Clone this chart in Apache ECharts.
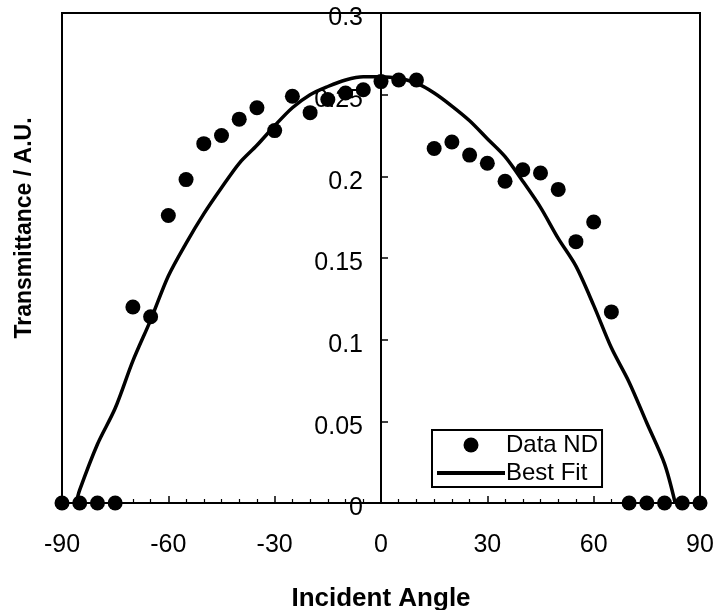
<!DOCTYPE html>
<html>
<head>
<meta charset="utf-8">
<script src="https://cdn.jsdelivr.net/npm/echarts@6/dist/echarts.min.js"></script>
<style>
html,body{margin:0;padding:0;background:#fff;}
#c{width:721px;height:610px;}
</style>
</head>
<body>
<div id="c"></div>
<script>
// Measured data (Data ND)
var dataX = [-90,-85,-80,-75,-70,-65,-60,-55,-50,-45,-40,-35,-30,-25,-20,-15,-10,-5,0,5,10,15,20,25,30,35,40,45,50,55,60,65,70,75,80,85,90];
var dataY = [0,0,0,0,0.120,0.114,0.176,0.198,0.220,0.225,0.235,0.242,0.228,0.249,0.239,0.247,0.251,0.253,0.258,0.259,0.259,0.217,0.221,0.213,0.208,0.197,0.204,0.202,0.192,0.160,0.172,0.117,0,0,0,0,0];
// Best fit curve
var fitX = [-86,-85,-80,-75,-70,-65,-60,-55,-50,-45,-40,-35,-30,-25,-20,-15,-10,-5,0,5,10,15,20,25,30,35,40,45,50,55,60,65,70,75,80,83];
var fitY = [0,0.008,0.036,0.058,0.087,0.112,0.139,0.159,0.177,0.193,0.208,0.219,0.231,0.242,0.250,0.255,0.259,0.261,0.261,0.260,0.257,0.251,0.243,0.234,0.223,0.212,0.197,0.181,0.162,0.145,0.121,0.095,0.074,0.049,0.024,0];
var xTicks = [-90,-60,-30,0,30,60,90];
var yTicks = [0,0.05,0.1,0.15,0.2,0.25,0.3];
var names = ['Data ND','Best Fit'];
var xTitle = 'Incident Angle';
var yTitle = 'Transmittance / A.U.';

function zip(a,b){var r=[];for(var i=0;i<a.length;i++)r.push([a[i],b[i]]);return r;}

var FONT = '"Liberation Sans", Arial, sans-serif';
var GL = 62, GR = 21, W = 721;
// y axis sits at x = 0 of the horizontal axis (middle of the grid)
var yOffset = -((W - GL - GR) / 2);
var chart = echarts.init(document.getElementById('c'), null, {renderer:'canvas'});
chart.setOption({
  animation:false,
  backgroundColor:'#fff',
  grid:{left:GL,right:GR,top:13,bottom:107,show:true,borderColor:'#000',borderWidth:2,backgroundColor:'transparent'},
  xAxis:{
    type:'value',min:xTicks[0],max:xTicks[xTicks.length-1],interval:30,
    axisLine:{show:true,onZero:false,lineStyle:{color:'#000',width:2}},
    axisTick:{show:true,inside:true,length:7,lineStyle:{color:'#000',width:1.5}},
    minorTick:{show:true,splitNumber:6,length:4,lineStyle:{color:'#000',width:1.2}},
    splitLine:{show:false},
    axisLabel:{color:'#000',fontSize:25,fontFamily:FONT,margin:30}
  },
  yAxis:{
    type:'value',position:'left',offset:yOffset,min:yTicks[0],max:yTicks[yTicks.length-1],interval:0.05,
    axisLine:{show:true,onZero:false,lineStyle:{color:'#000',width:2}},
    axisTick:{show:true,inside:true,length:7,lineStyle:{color:'#000',width:1.5}},
    splitLine:{show:false},
    axisLabel:{color:'#000',fontSize:25,fontFamily:FONT,margin:18,
      formatter:function(v){return '{a|' + String(+v.toFixed(2)) + '}';},
      rich:{a:{color:'#000',fontSize:25,fontFamily:FONT,padding:[11,0,0,0]}}}
  },
  legend:{
    left:432,top:430,orient:'vertical',
    data:[{name:names[0],icon:'circle'},{name:names[1],icon:'path://M0,0 L68,0 L68,4 L0,4 Z'}],
    itemWidth:68,itemHeight:15,itemGap:4,
    padding:[3,4,2,5],
    borderColor:'#000',borderWidth:2,borderRadius:0,
    textStyle:{color:'#000',fontSize:24,fontFamily:FONT,padding:[0,0,0,-4]},
    itemStyle:{color:'#000',opacity:1}
  },
  graphic:[
    {type:'text',x:381,y:599,style:{text:xTitle,fill:'#000',font:'bold 26px '+FONT,align:'center',verticalAlign:'middle'}},
    {type:'text',x:25,y:228,rotation:Math.PI/2,style:{text:yTitle,fill:'#000',font:'bold 23px '+FONT,align:'center',verticalAlign:'middle'}}
  ],
  series:[
    {name:names[0],type:'scatter',data:zip(dataX,dataY),symbol:'circle',symbolSize:15,itemStyle:{color:'#000',opacity:1},z:3},
    {name:names[1],type:'line',data:zip(fitX,fitY),symbol:'none',smooth:0.3,lineStyle:{color:'#000',width:3.5},itemStyle:{color:'#000'},z:2}
  ]
});
</script>
</body>
</html>
